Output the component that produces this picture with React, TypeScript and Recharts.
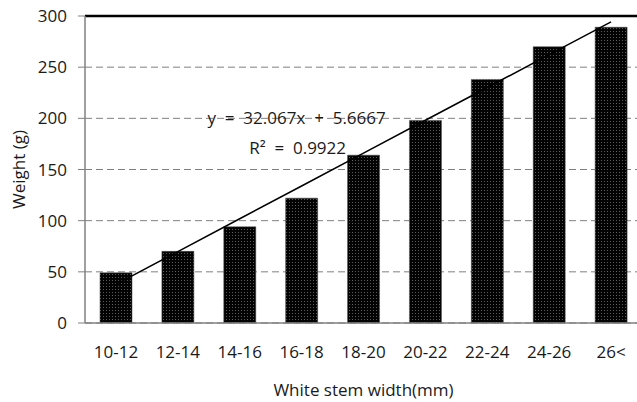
import React from "react";
import {
  ComposedChart,
  Bar,
  Line,
  XAxis,
  YAxis,
  CartesianGrid,
  ReferenceLine,
  ReferenceDot,
} from "recharts";

const categories = ["10-12", "12-14", "14-16", "16-18", "18-20", "20-22", "22-24", "24-26", "26<"];
const weights = [49, 70, 94, 122, 164, 198, 238, 270, 289];
const trend = [37.7, 69.8, 101.9, 133.9, 166.0, 198.1, 230.1, 262.2, 294.3];
const yTicks = [0, 50, 100, 150, 200, 250, 300];

const data = categories.map((c, i) => ({ name: c, weight: weights[i], trend: trend[i] }));

const FONT = "'Open Sans', 'Noto Sans', sans-serif";
const TEXT = "#1a1a1a";
const FS = 17;
const NB = "\u00A0";

export default function App() {
  return (
    <div
      style={{
        position: "absolute",
        left: 0,
        top: 0,
        width: 637,
        height: 402,
        overflow: "hidden",
        background: "#fff",
      }}
    >
      <ComposedChart
        width={660}
        height={402}
        data={data}
        margin={{ top: 16, right: 18, bottom: 0, left: 0 }}
        barSize={32}
      >
        <defs>
          <pattern id="dots" width="3" height="3" patternUnits="userSpaceOnUse">
            <rect x="0" y="0" width="3" height="3" fill="#030303" />
            <rect x="1" y="1" width="1" height="1" fill="#5a5a5a" />
          </pattern>
        </defs>
        <CartesianGrid
          vertical={false}
          stroke="#808080"
          strokeDasharray="7 4"
        />
        <XAxis
          dataKey="name"
          height={79}
          tickLine={false}
          axisLine={{ stroke: "#808080", strokeWidth: 1.5 }}
          tickMargin={17}
          interval={0}
          tick={{ fill: TEXT, fontSize: FS, fontFamily: FONT }}
          label={{
            value: "White stem width(mm)",
            position: "center",
            dy: 27,
            fill: TEXT,
            fontSize: FS,
            fontFamily: FONT,
          }}
        />
        <YAxis
          width={85}
          domain={[0, 300]}
          ticks={yTicks}
          interval={0}
          tickSize={7}
          tickMargin={11}
          tickLine={{ stroke: "#808080" }}
          axisLine={{ stroke: "#808080", strokeWidth: 1.5 }}
          tick={{ fill: TEXT, fontSize: FS, fontFamily: FONT }}
          label={{
            value: "Weight (g)",
            angle: -90,
            position: "center",
            dx: -24,
            fill: TEXT,
            fontSize: FS,
            fontFamily: FONT,
          }}
        />
        <ReferenceLine y={300} stroke="#000" strokeWidth={2.5} />
        <Bar
          dataKey="weight"
          fill="url(#dots) #111"
          stroke="#444"
          strokeWidth={0.5}
          isAnimationActive={false}
        />
        <Line
          dataKey="trend"
          stroke="#000"
          strokeWidth={1.5}
          dot={false}
          activeDot={false}
          isAnimationActive={false}
        />
        <ReferenceDot
          x="16-18"
          y={200}
          r={0}
          fill="none"
          stroke="none"
          label={{
            value: `y${NB}${NB}=${NB}${NB}32.067x${NB}${NB}+${NB}${NB}5.6667`,
            position: "center",
            dx: -5,
            fill: TEXT,
            fontSize: FS,
            fontFamily: FONT,
          }}
        />
        <ReferenceDot
          x="16-18"
          y={171}
          r={0}
          fill="none"
          stroke="none"
          label={{
            value: `R²${NB}${NB}=${NB}${NB}0.9922`,
            position: "center",
            dx: -4,
            fill: TEXT,
            fontSize: FS,
            fontFamily: FONT,
          }}
        />
      </ComposedChart>
    </div>
  );
}
